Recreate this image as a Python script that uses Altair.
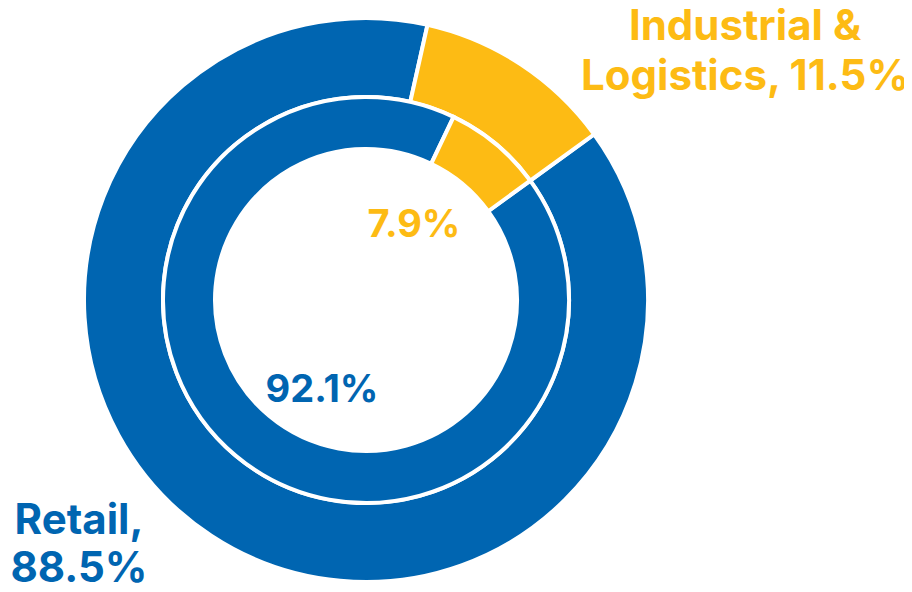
import altair as alt
import pandas as pd

segments = ["Retail", "Industrial & Logistics"]
outer_values = [88.5, 11.5]
inner_values = [92.1, 7.9]
colors = ["#0065B1", "#FDBB14"]

outer_labels = ["Retail,\n88.5%", "Industrial &\nLogistics, 11.5%"]
inner_labels = ["92.1%", "7.9%"]

outer_df = pd.DataFrame({"segment": segments, "value": outer_values, "order": [0, 1]})
inner_df = pd.DataFrame({"segment": segments, "value": inner_values, "order": [0, 1]})

START = 0.9425  # 54 degrees
theta_scale = alt.Scale(domain=[0, 100], range=[START, START + 6.28319])
color_scale = alt.Scale(domain=segments, range=colors)

CX, CY = 358, 292

outer = alt.Chart(outer_df).mark_arc(
    outerRadius=282, innerRadius=203, stroke="white", strokeWidth=4
).encode(
    theta=alt.Theta("value:Q", stack=True, scale=theta_scale),
    color=alt.Color("segment:N", scale=color_scale, legend=None),
    order=alt.Order("order:Q"),
    x=alt.value(CX), y=alt.value(CY),
)

inner = alt.Chart(inner_df).mark_arc(
    outerRadius=203, innerRadius=151, stroke="white", strokeWidth=4
).encode(
    theta=alt.Theta("value:Q", stack=True, scale=theta_scale),
    color=alt.Color("segment:N", scale=color_scale, legend=None),
    order=alt.Order("order:Q"),
    x=alt.value(CX), y=alt.value(CY),
)

lab_font = "Inter"

ind_label = alt.Chart(pd.DataFrame({"t": [outer_labels[1]]})).mark_text(
    font=lab_font, fontSize=42, fontWeight="bold", color=colors[1],
    lineBreak="\n", lineHeight=50, align="center", baseline="alphabetic"
).encode(text="t:N", x=alt.value(737), y=alt.value(32))

ret_label = alt.Chart(pd.DataFrame({"t": [outer_labels[0]]})).mark_text(
    font=lab_font, fontSize=42, fontWeight="bold", color=colors[0],
    lineBreak="\n", lineHeight=48, align="center", baseline="alphabetic"
).encode(text="t:N", x=alt.value(71), y=alt.value(526))

in_ind = alt.Chart(pd.DataFrame({"t": [inner_labels[1]]})).mark_text(
    font=lab_font, fontSize=38, fontWeight="bold", color=colors[1],
    align="center", baseline="alphabetic"
).encode(text="t:N", x=alt.value(406), y=alt.value(229))

in_ret = alt.Chart(pd.DataFrame({"t": [inner_labels[0]]})).mark_text(
    font=lab_font, fontSize=38, fontWeight="bold", color=colors[0],
    align="center", baseline="alphabetic"
).encode(text="t:N", x=alt.value(314), y=alt.value(394))

chart = alt.layer(outer, inner, ind_label, ret_label, in_ind, in_ret).properties(
    width=896, height=576, padding=0, autosize=alt.AutoSizeParams(type="none")
).configure_view(stroke=None)

chart.save("out.html", embed_options={"renderer": "svg", "actions": False})
